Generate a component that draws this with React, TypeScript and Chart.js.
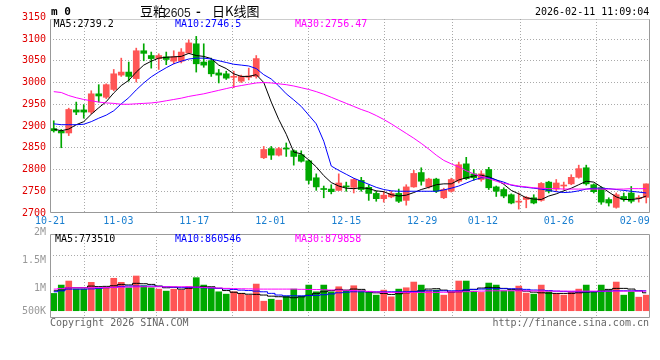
import React, { useEffect, useRef } from "react";
import { Chart, registerables } from "chart.js";

Chart.register(...registerables);

// ---------- data ----------
const X_LABELS = ["10-21", "11-03", "11-17", "12-01", "12-15", "12-29", "01-12", "01-26", "02-09"];
const X_LABEL_INDEX = [0, 9, 19, 29, 39, 49, 57, 67, 77];

const OPEN = [
  2894, 2888, 2884, 2937, 2937, 2932, 2974, 2966, 2984, 3017,
  3024, 3009, 3073, 3062, 3055, 3059, 3049, 3049, 3068, 3089,
  3047, 3050, 3022, 3020, 3012, 3003, 3012, 3014, 2827, 2848,
  2833, 2849, 2843, 2834, 2820, 2781, 2756, 2755, 2752, 2762,
  2759, 2775, 2759, 2745, 2733, 2737, 2745, 2729, 2760, 2793,
  2760, 2778, 2735, 2750, 2773, 2813, 2790, 2777, 2800, 2760,
  2754, 2742, 2725, 2731, 2735, 2729, 2771, 2755, 2762, 2767,
  2782, 2804, 2765, 2758, 2731, 2713, 2738, 2746, 2733, 2736,
];
const HIGH = [
  2912, 2892, 2941, 2955, 2949, 2981, 2995, 2997, 3030, 3056,
  3047, 3079, 3089, 3070, 3066, 3070, 3073, 3078, 3098, 3106,
  3089, 3056, 3030, 3026, 3026, 3017, 3033, 3062, 2853, 2853,
  2851, 2861, 2845, 2843, 2822, 2790, 2762, 2765, 2790, 2771,
  2779, 2782, 2765, 2750, 2750, 2750, 2755, 2765, 2798, 2804,
  2780, 2780, 2757, 2780, 2817, 2828, 2800, 2797, 2805, 2762,
  2758, 2744, 2746, 2738, 2742, 2770, 2773, 2777, 2771, 2788,
  2810, 2810, 2767, 2760, 2735, 2746, 2746, 2761, 2740, 2767,
];
const LOW = [
  2886, 2850, 2878, 2926, 2918, 2928, 2955, 2963, 2981, 3014,
  3003, 3001, 3050, 3033, 3030, 3041, 3043, 3045, 3066, 3024,
  3035, 3014, 2999, 3007, 2988, 3000, 3006, 3010, 2825, 2823,
  2831, 2830, 2810, 2817, 2767, 2752, 2735, 2744, 2752, 2750,
  2746, 2750, 2729, 2727, 2725, 2735, 2724, 2718, 2759, 2764,
  2757, 2747, 2733, 2748, 2769, 2777, 2775, 2773, 2754, 2738,
  2735, 2721, 2709, 2712, 2721, 2727, 2746, 2750, 2754, 2765,
  2780, 2764, 2746, 2720, 2716, 2711, 2727, 2723, 2725, 2723,
];
const CLOSE = [
  2889, 2884, 2938, 2932, 2932, 2974, 2969, 2995, 3020, 3024,
  3014, 3073, 3067, 3055, 3062, 3053, 3059, 3070, 3091, 3043,
  3040, 3020, 3017, 3010, 3014, 3014, 3015, 3055, 2846, 2833,
  2848, 2847, 2830, 2819, 2775, 2760, 2754, 2749, 2769, 2760,
  2777, 2754, 2745, 2733, 2741, 2745, 2727, 2760, 2791, 2773,
  2778, 2750, 2754, 2777, 2811, 2779, 2781, 2790, 2758, 2750,
  2739, 2723, 2726, 2736, 2723, 2768, 2750, 2769, 2763, 2782,
  2802, 2767, 2749, 2725, 2723, 2742, 2731, 2727, 2735, 2767,
];

const MA5 = [
  2893, 2889, 2893, 2903, 2910, 2927, 2942, 2956, 2976, 2993,
  3005, 3024, 3040, 3049, 3056, 3058, 3059, 3060, 3067, 3062,
  3060, 3055, 3040, 3032, 3020, 3014, 3014, 3018, 3000, 2955,
  2915, 2881, 2840, 2836, 2822, 2806, 2786, 2770, 2762, 2757,
  2756, 2758, 2756, 2751, 2749, 2742, 2739, 2741, 2747, 2754,
  2759, 2765, 2767, 2767, 2776, 2781, 2785, 2787, 2783, 2776,
  2766, 2752, 2744, 2735, 2732, 2731, 2739, 2744, 2751, 2757,
  2765, 2773, 2771, 2760, 2748, 2737, 2731, 2731, 2733, 2739,
];
const MA10 = [
  2905, 2903, 2903, 2903, 2904, 2910, 2918, 2925, 2935, 2951,
  2965, 2983, 2999, 3013, 3024, 3034, 3043, 3049, 3054, 3056,
  3056, 3054, 3050, 3046, 3042, 3040, 3038, 3032, 3018, 3008,
  2992, 2974, 2960, 2945, 2925, 2905, 2865, 2808, 2798, 2789,
  2780, 2773, 2766, 2759, 2754, 2751, 2750, 2750, 2750, 2750,
  2750, 2750, 2753, 2757, 2762, 2769, 2776, 2781, 2781, 2776,
  2771, 2764, 2761, 2759, 2757, 2755, 2752, 2749, 2747, 2748,
  2751, 2755, 2757, 2757, 2756, 2754, 2752, 2750, 2748, 2746,
];
const MA30 = [
  2979, 2977, 2970, 2965, 2961, 2958, 2955, 2953, 2952, 2950,
  2950, 2951, 2952, 2953, 2955, 2958, 2961, 2964, 2968, 2971,
  2974, 2978, 2982, 2986, 2990, 2993, 2996, 2999, 3000, 2999,
  2997, 2995, 2992, 2988, 2984, 2979, 2973, 2966, 2959, 2952,
  2945, 2938, 2932, 2924, 2915, 2905, 2894, 2883, 2872, 2860,
  2847, 2833, 2821, 2813, 2806, 2797, 2790, 2784, 2779, 2773,
  2768, 2765, 2762, 2760, 2758, 2757, 2756, 2756, 2755, 2755,
  2755, 2755, 2755, 2755, 2755, 2755, 2755, 2756, 2756, 2756,
];

const VOLUME = [
  939000, 1088000, 1160000, 1016000, 1016000, 1137000, 1029000, 1040000, 1209000, 1137000,
  1040000, 1250000, 1076000, 1040000, 1016000, 980000, 1015000, 1000000, 1060000, 1220000,
  1088000, 1040000, 968000, 926000, 968000, 939000, 908000, 1106000, 800000, 836000,
  818000, 890000, 1016000, 890000, 1088000, 968000, 1088000, 968000, 1058000, 986000,
  1076000, 986000, 968000, 908000, 998000, 878000, 1016000, 1040000, 1142000, 1088000,
  986000, 998000, 908000, 968000, 1160000, 1160000, 980000, 957000, 1124000, 1088000,
  986000, 986000, 1070000, 944000, 926000, 1088000, 968000, 932000, 908000, 968000,
  1016000, 1088000, 968000, 1088000, 998000, 1142000, 908000, 968000, 872000, 908000,
];
const VOL_MA5 = [
  986000, 998000, 1040000, 1040000, 1040000, 1070000, 1060000, 1065000, 1076000, 1100000,
  1090000, 1119000, 1112000, 1100000, 1070000, 1040000, 1050000, 1016000, 1030000, 1050000,
  1058000, 1058000, 1030000, 990000, 960000, 939000, 925000, 922000, 910000, 890000,
  880000, 875000, 862000, 878000, 905000, 940000, 968000, 990000, 1011000, 998000,
  1017000, 1011000, 968000, 950000, 939000, 921000, 933000, 950000, 968000, 986000,
  1017000, 1023000, 998000, 962000, 968000, 998000, 1011000, 1035000, 1047000, 1041000,
  1029000, 1011000, 998000, 980000, 962000, 950000, 945000, 939000, 939000, 939000,
  950000, 962000, 968000, 980000, 1011000, 1029000, 1029000, 1017000, 986000, 950000,
];
const VOL_MA10 = [
  968000, 985000, 1016000, 1016000, 1016000, 1020000, 1029000, 1040000, 1047000, 1065000,
  1070000, 1070000, 1070000, 1070000, 1065000, 1058000, 1050000, 1047000, 1047000, 1047000,
  1040000, 1035000, 1029000, 1020000, 1010000, 998000, 990000, 980000, 968000, 940000,
  910000, 896000, 896000, 896000, 900000, 905000, 915000, 930000, 950000, 962000,
  968000, 968000, 968000, 968000, 968000, 968000, 968000, 970000, 975000, 980000,
  986000, 986000, 986000, 986000, 986000, 1000000, 1011000, 1017000, 1023000, 1023000,
  1023000, 1023000, 1020000, 1011000, 1000000, 998000, 990000, 980000, 975000, 968000,
  968000, 968000, 970000, 975000, 980000, 986000, 986000, 986000, 986000, 986000,
];
const VOL_MA30 = [
  1016000, 1025000, 1040000, 1040000, 1040000, 1040000, 1042000, 1045000, 1047000, 1050000,
  1052000, 1055000, 1058000, 1058000, 1058000, 1058000, 1058000, 1058000, 1058000, 1052000,
  1047000, 1040000, 1035000, 1029000, 1025000, 1022000, 1020000, 1016000, 1016000, 1016000,
  1016000, 1016000, 1016000, 1012000, 1010000, 1008000, 1004000, 1000000, 998000, 995000,
  990000, 985000, 975000, 965000, 960000, 957000, 957000, 957000, 957000, 957000,
  957000, 957000, 960000, 965000, 968000, 970000, 975000, 980000, 985000, 986000,
  986000, 986000, 986000, 986000, 984000, 982000, 980000, 980000, 980000, 980000,
  980000, 980000, 980000, 980000, 980000, 980000, 980000, 980000, 980000, 980000,
];

const PRICE_TICKS = [2700, 2750, 2800, 2850, 2900, 2950, 3000, 3050, 3100, 3150];
const VOL_GRID = [1250000, 1625000];
const VOL_TICKS = [500000, 1000000, 1500000, 2000000];
const VOL_TICK_TEXT = ["500K", "1M", "1.5M", "2M"];

// ---------- styling ----------
const UP = "#ff5555";
const DOWN = "#00a800";
const GRID = "#aaaaaa";
const FRAME = "#999999";
const FONT = '"DejaVu Sans Mono", "Liberation Mono", monospace';
const CJK = '"Noto Sans CJK SC", sans-serif';
const PRICE_MIN = 2700;
const PRICE_MAX = 3146;
const VOL_MIN = 500000;
const VOL_MAX = 2000000;
const VOLUME_BASE = 630000;
const CLEAR = "rgba(0,0,0,0)";

const N = CLOSE.length;
const slot = (i: number) => i + 0.5;
const gridPos = (i: number) => (i * N) / (N - 1);
const candleColors = CLOSE.map((c, i) => (c >= OPEN[i] ? UP : DOWN));

const framePlugin = (topDash: number[]) => ({
  id: "frame",
  afterDraw(chart: any) {
    const { ctx, chartArea: a } = chart;
    const L = Math.round(a.left) + 0.5;
    const R = Math.round(a.right) - 0.5;
    const T = Math.round(a.top) + 0.5;
    const B = Math.round(a.bottom) - 0.5;
    ctx.save();
    ctx.strokeStyle = FRAME;
    ctx.lineWidth = 1;
    ctx.beginPath();
    ctx.moveTo(L, T);
    ctx.lineTo(L, B);
    ctx.lineTo(R, B);
    ctx.lineTo(R, T);
    ctx.stroke();
    ctx.setLineDash(topDash);
    ctx.beginPath();
    ctx.moveTo(L, T);
    ctx.lineTo(R, T);
    ctx.stroke();
    ctx.restore();
  },
});

const volLabelPlugin = {
  id: "volLabels",
  afterDraw(chart: any) {
    const { ctx, chartArea } = chart;
    const y = chart.scales.y;
    ctx.save();
    ctx.font = `10px ${FONT}`;
    ctx.fillStyle = "#999999";
    ctx.textAlign = "right";
    ctx.textBaseline = "middle";
    VOL_TICKS.forEach((v, k) => {
      const p = Math.min(y.getPixelForValue(v) - 2, chartArea.bottom - 7);
      ctx.fillText(VOL_TICK_TEXT[k], 46, p);
    });
    ctx.restore();
  },
};

const xScale = (showLabels: boolean) => ({
  type: "linear",
  min: 0,
  max: N,
  offset: false,
  afterBuildTicks: (s: any) => {
    s.ticks = X_LABEL_INDEX.map((i) => ({ value: gridPos(i) }));
  },
  afterFit: (s: any) => {
    s.height = showLabels ? 14 : 0;
  },
  ticks: {
    display: showLabels,
    autoSkip: false,
    maxRotation: 0,
    padding: 2,
    color: "#1a7fd0",
    font: { family: FONT, size: 10 },
    callback: (_v: any, idx: number) => X_LABELS[idx],
  },
  grid: {
    drawTicks: false,
    color: (ctx: any) => (ctx.tick && ctx.tick.value === 0 ? CLEAR : GRID),
  },
  border: { display: false, dash: [1, 2] },
});

const lineDs = (values: number[], color: string, stepped: any) => ({
  type: "line",
  data: values.map((v, i) => ({ x: slot(i), y: v })),
  borderColor: color,
  borderWidth: 1,
  pointRadius: 0,
  tension: 0,
  stepped,
  order: 0,
});

function priceConfig(): any {
  return {
    type: "bar",
    data: {
      datasets: [
        {
          type: "bar",
          data: LOW.map((l, i) => ({ x: slot(i), y: [l, HIGH[i]] })),
          backgroundColor: candleColors,
          barThickness: 1,
          grouped: false,
          order: 3,
        },
        {
          type: "bar",
          data: OPEN.map((o, i) => ({ x: slot(i), y: [o, CLOSE[i]] })),
          backgroundColor: candleColors,
          barThickness: 6,
          minBarLength: 1,
          grouped: false,
          order: 2,
        },
        lineDs(MA30, "#ff00ff", false),
        lineDs(MA10, "#0000ff", false),
        lineDs(MA5, "#000000", false),
      ],
    },
    options: {
      responsive: false,
      animation: false,
      devicePixelRatio: 1,
      events: [],
      layout: { padding: { top: 19, bottom: 133, left: 0, right: 10 } },
      plugins: { legend: { display: false }, tooltip: { enabled: false } },
      scales: {
        x: xScale(true),
        y: {
          type: "linear",
          min: PRICE_MIN,
          max: PRICE_MAX,
          afterBuildTicks: (s: any) => {
            s.ticks = PRICE_TICKS.map((v) => ({ value: v }));
          },
          afterFit: (s: any) => {
            s.width = 50;
          },
          ticks: {
            padding: 4,
            color: "#e00000",
            font: { family: FONT, size: 10 },
            callback: (v: any) => String(v),
          },
          grid: {
            drawTicks: false,
            color: (ctx: any) =>
              ctx.tick && (ctx.tick.value > PRICE_MAX || ctx.tick.value <= PRICE_MIN) ? CLEAR : GRID,
          },
          border: { display: false, dash: [1, 2] },
        },
      },
    },
    plugins: [framePlugin([1, 1])],
  };
}

function volumeConfig(): any {
  return {
    type: "bar",
    data: {
      datasets: [
        {
          type: "bar",
          data: VOLUME.map((v, i) => ({ x: slot(i), y: v })),
          base: VOLUME_BASE,
          backgroundColor: candleColors,
          barThickness: 6,
          grouped: false,
          order: 2,
        },
        lineDs(VOL_MA30, "#ff00ff", "middle"),
        lineDs(VOL_MA10, "#0000ff", "middle"),
        lineDs(VOL_MA5, "#000000", "middle"),
      ],
    },
    options: {
      responsive: false,
      animation: false,
      devicePixelRatio: 1,
      events: [],
      layout: { padding: { top: 234, bottom: 42, left: 0, right: 10 } },
      plugins: { legend: { display: false }, tooltip: { enabled: false } },
      scales: {
        x: xScale(false),
        y: {
          type: "linear",
          min: VOL_MIN,
          max: VOL_MAX,
          afterBuildTicks: (s: any) => {
            s.ticks = VOL_GRID.map((v) => ({ value: v }));
          },
          afterFit: (s: any) => {
            s.width = 50;
          },
          ticks: { display: false },
          grid: { drawTicks: false, color: GRID },
          border: { display: false, dash: [1, 2] },
        },
      },
    },
    plugins: [framePlugin([]), volLabelPlugin],
  };
}

const mono10 = `10px ${FONT}`;

function Label(props: { left?: number; right?: number; top: number; color: string; text: string; font?: string; lh?: number }) {
  const { left, right, top, color, text, font, lh } = props;
  return (
    <div
      style={{
        position: "absolute",
        left,
        right,
        top,
        color,
        font: font || mono10,
        lineHeight: `${lh || 12}px`,
        whiteSpace: "pre",
      }}
    >
      {text}
    </div>
  );
}

export default function App() {
  const priceRef = useRef<HTMLCanvasElement>(null);
  const volRef = useRef<HTMLCanvasElement>(null);

  useEffect(() => {
    const c1 = new Chart(priceRef.current as HTMLCanvasElement, priceConfig());
    const c2 = new Chart(volRef.current as HTMLCanvasElement, volumeConfig());
    return () => {
      c1.destroy();
      c2.destroy();
    };
  }, []);

  const canvasStyle: React.CSSProperties = { position: "absolute", left: 0, top: 0 };

  return (
    <div style={{ position: "absolute", left: 0, top: 0, width: 660, height: 360, background: "#fff", overflow: "hidden" }}>
      <canvas ref={priceRef} width={660} height={360} style={canvasStyle} />
      <canvas ref={volRef} width={660} height={360} style={canvasStyle} />

      <Label left={51} top={5.5} color="#000" text="m 0" font={`bold 11px ${FONT}`} />
      <Label left={140} top={4} color="#000" text="豆粕" font={`13px ${CJK}`} lh={14} />
      <Label left={164} top={6} color="#222" text="2605" font={'12px "Liberation Sans", Arial, sans-serif'} lh={14} />
      <Label left={196} top={4} color="#000" text="-" font={`bold 13px ${CJK}`} lh={14} />
      <Label left={212} top={4} color="#000" text="日K线图" font={`13px ${CJK}`} lh={14} />
      <Label left={535} top={5.5} color="#000" text="2026-02-11 11:09:04" />

      <Label left={53.5} top={18} color="#000" text="MA5:2739.2" />
      <Label left={175} top={18} color="#0000ff" text="MA10:2746.5" />
      <Label left={295} top={18} color="#ff00ff" text="MA30:2756.47" />

      <Label left={55} top={232.7} color="#000" text="MA5:773510" />
      <Label left={175} top={232.7} color="#0000ff" text="MA10:860546" />
      <Label left={295} top={232.7} color="#ff00ff" text="MA30:879858" />

      <Label left={50} top={317.3} color="#666" text="Copyright 2026 SINA.COM" />
      <Label right={11} top={317.3} color="#666" text="http://finance.sina.com.cn" />
    </div>
  );
}
